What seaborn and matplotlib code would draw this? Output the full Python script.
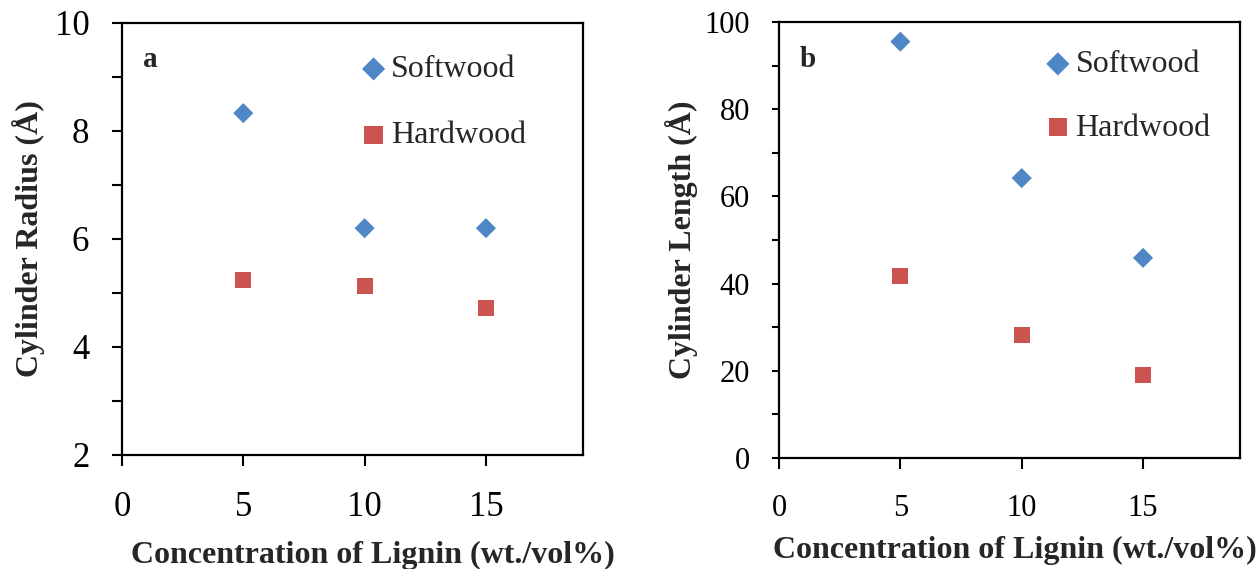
import numpy as np
import pandas as pd
import seaborn as sns
import matplotlib
matplotlib.use("Agg")
import matplotlib.pyplot as plt

# ---- data ----
concentration = [5, 10, 15]
series_names = ["Softwood", "Hardwood"]
radius_softwood = [8.33, 6.2, 6.2]
radius_hardwood = [5.24, 5.13, 4.72]
length_softwood = [95.5, 64.2, 45.9]
length_hardwood = [41.7, 28.2, 19.0]

x_label = "Concentration of Lignin (wt./vol%)"
y_label_a = "Cylinder Radius (Å)"
y_label_b = "Cylinder Length (Å)"

sns.set_style("ticks")
plt.rcParams['font.family'] = ['Liberation Serif', 'DejaVu Serif']

palette = {"Softwood": "#4F87C6", "Hardwood": "#CB5450"}
markers = {"Softwood": "D", "Hardwood": "s"}
sizes_map = {"Softwood": 105, "Hardwood": 130}

def make_df(soft, hard):
    return pd.DataFrame({
        "conc": concentration * 2,
        "value": list(soft) + list(hard),
        "series": [series_names[0]] * 3 + [series_names[1]] * 3,
    })

fig = plt.figure(figsize=(12.6, 5.69), dpi=100)
ax1 = fig.add_axes([0.0968, 0.2004, 0.3659, 0.7592])
ax2 = fig.add_axes([0.6183, 0.1951, 0.3659, 0.7662])

panels = [
    # ax, df, ylim, major, minor, ylabel, tag, ticksize, ytick_len, leg_x, leg_y, spacing, xlab_xy, ylab_x
    (ax1, make_df(radius_softwood, radius_hardwood), (2, 10), 2, 1, y_label_a, "a",
     25, 7.5, 0.525, 0.926, 1.14, (0.5445, -0.200), -0.167),
    (ax2, make_df(length_softwood, length_hardwood), (0, 100), 20, 10, y_label_b, "b",
     22, 5.0, 0.584, 0.936, 1.06, (0.512, -0.178), -0.175),
]

for ax, df, ylim, major, minor, ylab, tag, tsize, ylen, lx, ly, lsp, xlab_xy, ylab_x in panels:
    for name in series_names:
        sub = df[df["series"] == name]
        sns.scatterplot(data=sub, x="conc", y="value", ax=ax,
                        color=palette[name], marker=markers[name],
                        s=sizes_map[name], edgecolor="none", label=name, zorder=3)
    ax.set_xlim(0, 19)
    ax.set_ylim(*ylim)
    ax.set_xticks([0, 5, 10, 15])
    ax.set_yticks(np.arange(ylim[0], ylim[1] + 0.001, major))
    ax.set_yticks(np.arange(ylim[0], ylim[1] + 0.001, minor), minor=True)
    ax.tick_params(axis="both", which="both", direction="out", width=1.5,
                   labelsize=tsize, colors="black")
    ax.tick_params(axis="y", which="both", length=ylen)
    ax.tick_params(axis="y", which="major", pad=16)
    ax.tick_params(axis="x", which="major", length=8, pad=18)
    for sp in ax.spines.values():
        sp.set_visible(True)
        sp.set_linewidth(1.6)
        sp.set_color("black")
    ax.set_xlabel(x_label, fontsize=23, fontweight="bold")
    ax.set_ylabel(ylab, fontsize=23, fontweight="bold")
    ax.xaxis.set_label_coords(*xlab_xy)
    ax.yaxis.set_label_coords(ylab_x, 0.5)
    ax.text(0.0455, 0.915, tag, transform=ax.transAxes, fontsize=21,
            fontweight="bold", ha="left", va="center")
    ax.legend(loc="upper left", bbox_to_anchor=(lx, ly), frameon=False,
              fontsize=23, handletextpad=0.25, labelspacing=lsp,
              handlelength=0.6, borderaxespad=0, borderpad=0, markerscale=1.15)

fig.savefig("out.png", dpi=100)
